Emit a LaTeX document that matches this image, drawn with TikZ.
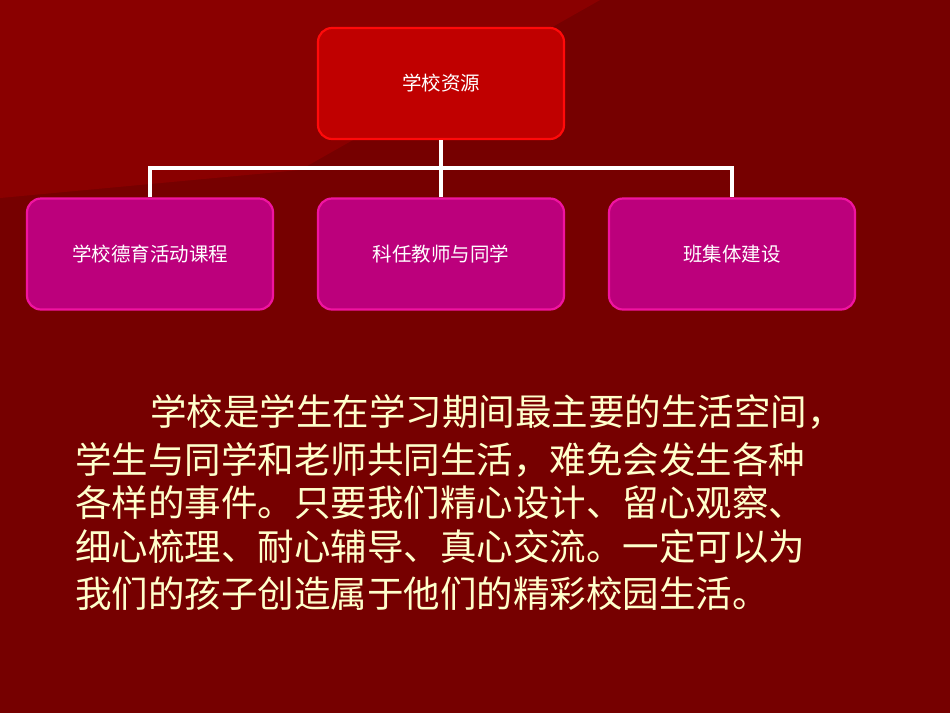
\documentclass[tikz,border=0pt]{standalone}
\usepackage{fontspec}
\newfontfamily\cjk{Noto Sans CJK SC}
\definecolor{bgdark}{RGB}{118,0,0}
\definecolor{bglight}{RGB}{138,0,0}
\definecolor{topfill}{RGB}{192,0,0}
\definecolor{topline}{RGB}{255,10,10}
\definecolor{subfill}{RGB}{188,0,124}
\definecolor{subline}{RGB}{240,20,160}
\definecolor{paratext}{RGB}{255,255,204}
\begin{document}
\begin{tikzpicture}[x=1pt,y=-1pt,
  topbox/.style={draw=topline,line width=2.2pt,fill=topfill,rounded corners=14pt,minimum width=246pt,minimum height=111pt,text=white,font=\cjk\fontsize{19.5}{22}\selectfont},
  subbox/.style={draw=subline,line width=2.2pt,fill=subfill,rounded corners=14pt,minimum width=246pt,minimum height=111pt,text=white,font=\cjk\fontsize{19.5}{22}\selectfont},
  para/.style={anchor=west,text=paratext,font=\cjk\fontsize{36.5}{40}\selectfont,inner sep=0pt},
  conn/.style={draw=white,line width=3.5pt}]
\fill[bgdark] (0,0) rectangle (950,713);
\fill[bglight] (0,0) -- (600,0) -- (300,170) -- (0,198) -- cycle;
\node[topbox] (top) at (441,83.5) {学校资源};
\node[subbox] (a) at (150,254) {学校德育活动课程};
\node[subbox] (b) at (441,254) {科任教师与同学};
\node[subbox] (c) at (732,254) {班集体建设};
\coordinate (m) at (441,168);
\draw[conn] (top.south) -- (b.north);
\draw[conn] (a.north) |- (m) -| (c.north);
\node[para] (l1) at (150,412) {学校是学生在学习期间最主要的生活空间，};
\node[para] (l2) at (75,460) {学生与同学和老师共同生活，难免会发生各种};
\node[para] (l3) at (75,503) {各样的事件。只要我们精心设计、留心观察、};
\node[para] (l4) at (75,547) {细心梳理、耐心辅导、真心交流。一定可以为};
\node[para] (l5) at (75,594) {我们的孩子创造属于他们的精彩校园生活。};
\end{tikzpicture}
\end{document}
